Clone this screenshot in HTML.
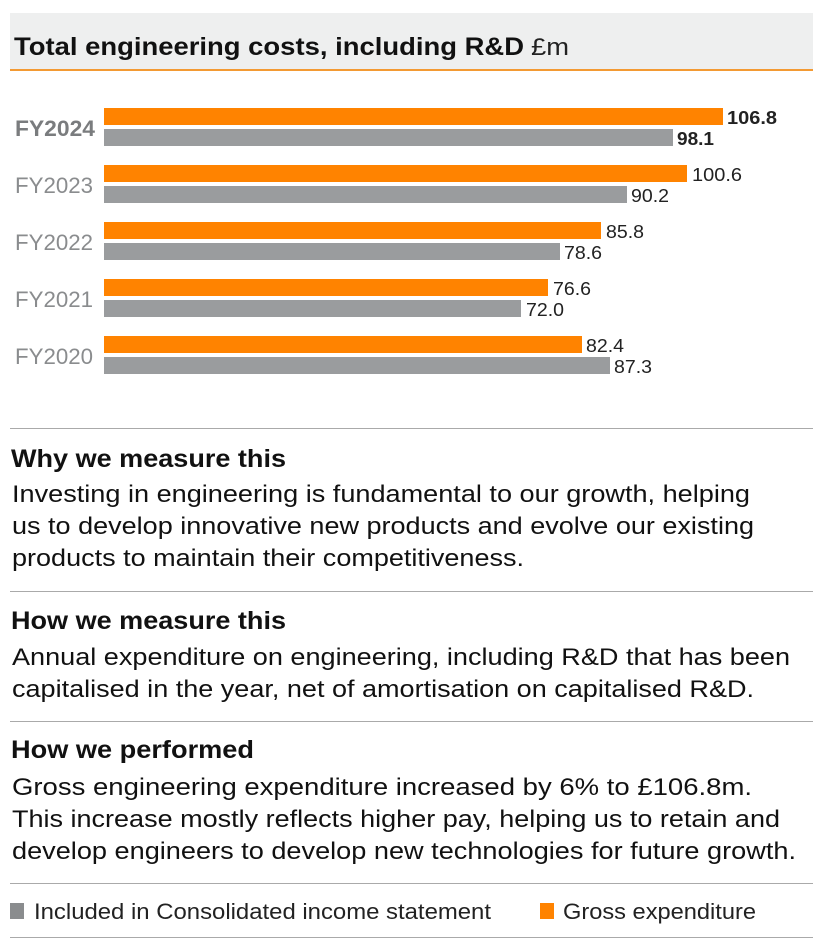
<!DOCTYPE html>
<html><head><meta charset="utf-8"><style>
html,body{margin:0;padding:0;background:#fff;}
svg{display:block;font-family:"Liberation Sans",Arial,sans-serif;}
</style></head><body>
<svg width="825" height="950" viewBox="0 0 825 950" xmlns="http://www.w3.org/2000/svg">
<rect x="10" y="13" width="803" height="56" fill="#eeefef"/>
<rect x="10" y="69" width="803" height="2" fill="#f39a33"/>
<text x="14" y="55" font-size="25" font-weight="bold" fill="#111" textLength="510" lengthAdjust="spacingAndGlyphs">Total engineering costs, including R&amp;D</text>
<text x="531" y="55" font-size="24" fill="#222" textLength="38" lengthAdjust="spacingAndGlyphs">£m</text>

<g font-size="18" fill="#222">
<rect x="104" y="108" width="619" height="17" fill="#ff8300"/>
<rect x="104" y="129" width="569" height="17" fill="#9a9c9e"/>
<text x="727" y="124" font-weight="bold" textLength="50" lengthAdjust="spacingAndGlyphs">106.8</text>
<text x="677" y="145" font-weight="bold" textLength="37" lengthAdjust="spacingAndGlyphs">98.1</text>

<rect x="104" y="165" width="583" height="17" fill="#ff8300"/>
<rect x="104" y="186" width="523" height="17" fill="#9a9c9e"/>
<text x="692" y="181" textLength="50" lengthAdjust="spacingAndGlyphs">100.6</text>
<text x="631" y="202" textLength="38" lengthAdjust="spacingAndGlyphs">90.2</text>

<rect x="104" y="222" width="497" height="17" fill="#ff8300"/>
<rect x="104" y="243" width="456" height="17" fill="#9a9c9e"/>
<text x="606" y="238" textLength="38" lengthAdjust="spacingAndGlyphs">85.8</text>
<text x="564" y="259" textLength="38" lengthAdjust="spacingAndGlyphs">78.6</text>

<rect x="104" y="279" width="444" height="17" fill="#ff8300"/>
<rect x="104" y="300" width="417" height="17" fill="#9a9c9e"/>
<text x="553" y="295" textLength="38" lengthAdjust="spacingAndGlyphs">76.6</text>
<text x="526" y="316" textLength="38" lengthAdjust="spacingAndGlyphs">72.0</text>

<rect x="104" y="336" width="478" height="17" fill="#ff8300"/>
<rect x="104" y="357" width="506" height="17" fill="#9a9c9e"/>
<text x="586" y="352" textLength="38" lengthAdjust="spacingAndGlyphs">82.4</text>
<text x="614" y="373" textLength="38" lengthAdjust="spacingAndGlyphs">87.3</text>
</g>
<g font-size="22" fill="#8a8c8e">
<text x="15" y="136" font-weight="bold" fill="#7a7c7e" textLength="80" lengthAdjust="spacingAndGlyphs">FY2024</text>
<text x="15" y="193" textLength="78" lengthAdjust="spacingAndGlyphs">FY2023</text>
<text x="15" y="250" textLength="78" lengthAdjust="spacingAndGlyphs">FY2022</text>
<text x="15" y="307" textLength="78" lengthAdjust="spacingAndGlyphs">FY2021</text>
<text x="15" y="364" textLength="78" lengthAdjust="spacingAndGlyphs">FY2020</text>
</g>

<g fill="#aaa">
<rect x="10" y="428" width="803" height="1"/>
<rect x="10" y="591" width="803" height="1"/>
<rect x="10" y="721" width="803" height="1"/>
<rect x="10" y="883" width="803" height="1"/>
<rect x="10" y="937" width="803" height="1"/>
</g>

<g fill="#111" font-size="24">
<text x="11" y="467" font-size="25" font-weight="bold" textLength="275" lengthAdjust="spacingAndGlyphs">Why we measure this</text>
<text x="12" y="502" textLength="738" lengthAdjust="spacingAndGlyphs">Investing in engineering is fundamental to our growth, helping</text>
<text x="12" y="534" textLength="742" lengthAdjust="spacingAndGlyphs">us to develop innovative new products and evolve our existing</text>
<text x="12" y="566" textLength="512" lengthAdjust="spacingAndGlyphs">products to maintain their competitiveness.</text>

<text x="11" y="629" font-size="25" font-weight="bold" textLength="275" lengthAdjust="spacingAndGlyphs">How we measure this</text>
<text x="12" y="665" textLength="778" lengthAdjust="spacingAndGlyphs">Annual expenditure on engineering, including R&amp;D that has been</text>
<text x="12" y="697" textLength="742" lengthAdjust="spacingAndGlyphs">capitalised in the year, net of amortisation on capitalised R&amp;D.</text>

<text x="11" y="758" font-size="25" font-weight="bold" textLength="243" lengthAdjust="spacingAndGlyphs">How we performed</text>
<text x="12" y="795" textLength="740" lengthAdjust="spacingAndGlyphs">Gross engineering expenditure increased by 6% to £106.8m.</text>
<text x="12" y="827" textLength="768" lengthAdjust="spacingAndGlyphs">This increase mostly reflects higher pay, helping us to retain and</text>
<text x="12" y="859" textLength="784" lengthAdjust="spacingAndGlyphs">develop engineers to develop new technologies for future growth.</text>
</g>

<rect x="10" y="903" width="14" height="16" fill="#8a8c8e"/>
<text x="34" y="919" font-size="22" fill="#222" textLength="457" lengthAdjust="spacingAndGlyphs">Included in Consolidated income statement</text>
<rect x="540" y="903" width="14" height="16" fill="#ff8300"/>
<text x="563" y="919" font-size="22" fill="#222" textLength="193" lengthAdjust="spacingAndGlyphs">Gross expenditure</text>
</svg>
</body></html>
